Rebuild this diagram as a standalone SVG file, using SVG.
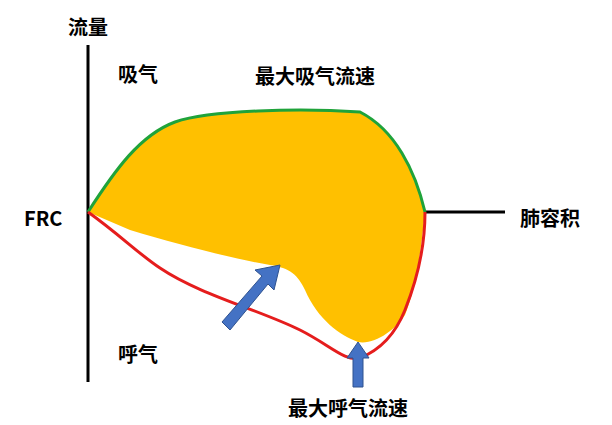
<svg xmlns="http://www.w3.org/2000/svg" width="612" height="425" viewBox="0 0 612 425">
<style>
text{font-family:"Noto Sans CJK SC","Liberation Sans",sans-serif;font-size:20px;font-weight:bold;fill:#000}
.ax{stroke:#000;stroke-width:3;fill:none}
.arr{fill:#4472C4;stroke:#2F528F;stroke-width:1}
</style>
<rect width="612" height="425" fill="#fff"/>
<g id="axes">
<line class="ax" x1="88" y1="45" x2="88" y2="382"/>
<line class="ax" x1="425" y1="212" x2="505" y2="212"/>
</g>
<g id="loop">
<path d="M88,212 C115,170 140,135 175,122 C210,110 300,108 360,112 C395,130 415,170 425,212 C420,260 415,290 405,315 C395,330 375,345 358,342 C340,335 318,320 305,290 C298,275 290,268 270,265 C230,258 180,245 130,230 Z" fill="#FFC000"/>
<path d="M88,212 C115,170 140,135 175,122 C210,110 300,108 360,112 C395,130 415,170 425,212" fill="none" stroke="#1FA33A" stroke-width="3"/>
<path d="M88,212 C120,235 140,255 160,268 C200,295 260,310 300,330 C330,345 345,362 360,358 C380,350 395,335 405,310 C415,285 425,250 425,212" fill="none" stroke="#E51D1D" stroke-width="3"/>
</g>
<g id="arrows">
<polygon class="arr" points="222,322 262,276 255,270 280,265 274,290 268,284 230,330"/>
<polygon class="arr" points="353,387 353,358 347,358 358,342 369,358 363,358 363,387"/>
</g>
<g id="labels">
<text x="68" y="35">流量</text>
<text x="118" y="82">吸气</text>
<text x="255" y="84">最大吸气流速</text>
<text x="24" y="226" font-family="Liberation Sans,sans-serif">FRC</text>
<text x="520" y="226">肺容积</text>
<text x="118" y="362">呼气</text>
<text x="288" y="416">最大呼气流速</text>
</g>
</svg>
